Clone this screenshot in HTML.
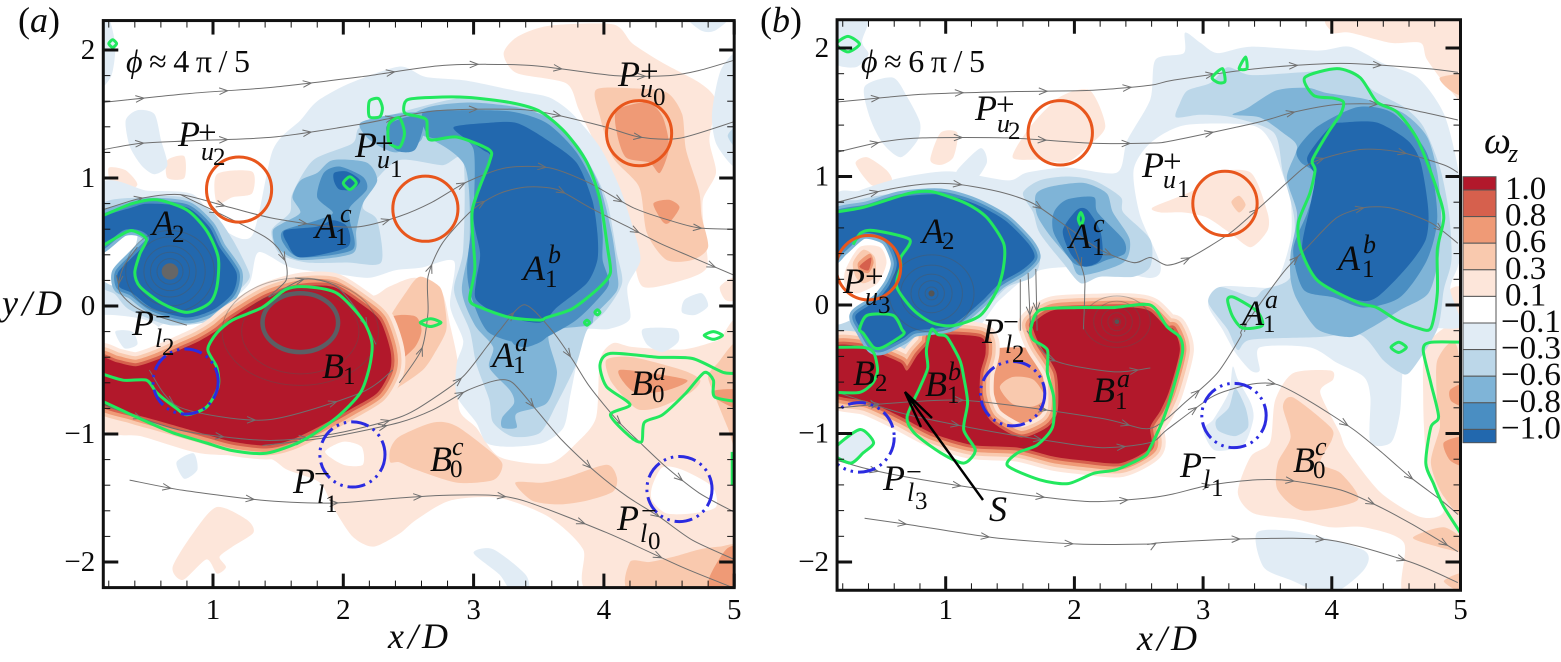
<!DOCTYPE html>
<html lang="en">
<head>
<meta charset="utf-8">
<title>Vorticity contours at two phases</title>
<style>
html,body{margin:0;padding:0;background:#fff;width:1561px;height:662px;overflow:hidden}
svg{display:block}
text{font-family:"Liberation Serif","Noto Serif CJK SC",serif;fill:#0a0a0a}
.m{font-size:36px;font-style:italic}
.u{font-size:26px;font-style:italic}
.d{font-size:25px}
.p{font-size:33px}
.n{font-size:28px}
.t{font-size:29px}
</style>
</head>
<body>
<svg id="figure" width="1561" height="662" viewBox="0 0 1561 662" xmlns="http://www.w3.org/2000/svg">
<defs>
<clipPath id="clip-a"><rect x="103" y="20" width="631" height="568"/></clipPath>
<clipPath id="clip-b"><rect x="837" y="20" width="624" height="570"/></clipPath>
</defs>
<g id="panel-a"></g>
<g id="panel-b"></g>
<g id="colorbar"></g>

<g>
<text x="18" y="32" font-size="36">(<tspan font-style="italic">a</tspan>)</text>
<text x="126" y="72" font-size="32" textLength="124" lengthAdjust="spacing"><tspan font-style="italic">ϕ</tspan>≈4π/5</text>
<text x="2" y="315" font-size="36" font-style="italic" textLength="60" lengthAdjust="spacing">y/D</text>
<text x="388" y="648" font-size="36" font-style="italic" textLength="60" lengthAdjust="spacing">x/D</text>
<g><text class="m" x="178" y="146">P</text><text class="p" x="198" y="143">+</text><text class="u" x="201" y="160">u</text><text class="d" x="213" y="165">2</text></g>
<g><text class="m" x="355" y="157">P</text><text class="p" x="375" y="154">+</text><text class="u" x="377" y="168">u</text><text class="d" x="390" y="177">1</text></g>
<g><text class="m" x="618" y="86">P</text><text class="p" x="640" y="82">+</text><text class="u" x="640" y="97">u</text><text class="d" x="653" y="105">0</text></g>
<g><text class="m" x="152" y="235">A</text><text class="d" x="172" y="242">2</text></g>
<g><text class="m" x="315" y="238">A</text><text class="d" x="335" y="245">1</text><text class="u" x="340" y="222">c</text></g>
<g><text class="m" x="523" y="280">A</text><text class="d" x="545" y="287">1</text><text class="u" x="548" y="263">b</text></g>
<g><text class="m" x="492" y="367">A</text><text class="d" x="513" y="373">1</text><text class="u" x="515" y="351">a</text></g>
<g><text class="m" x="322" y="378">B</text><text class="d" x="343" y="384">1</text></g>
<g><text class="m" x="132" y="335">P</text><text class="n" x="155" y="326">−</text><text class="u" x="155" y="347">l</text><text class="d" x="162" y="355">2</text></g>
<g><text class="m" x="293" y="493">P</text><text class="n" x="314" y="483">−</text><text class="u" x="317" y="503">l</text><text class="d" x="325" y="512">1</text></g>
<g><text class="m" x="617" y="530">P</text><text class="n" x="641" y="520">−</text><text class="u" x="640" y="542">l</text><text class="d" x="648" y="549">0</text></g>
<g><text class="m" x="631" y="395">B</text><text class="d" x="652" y="402">0</text><text class="u" x="653" y="380">a</text></g>
<g><text class="m" x="430" y="471">B</text><text class="d" x="450" y="477">0</text><text class="u" x="452" y="455">c</text></g>
</g>

<g>
<text x="760" y="32" font-size="36">(<tspan font-style="italic">b</tspan>)</text>
<text x="861" y="72" font-size="32" textLength="124" lengthAdjust="spacing"><tspan font-style="italic">ϕ</tspan>≈6π/5</text>
<text x="1137" y="650" font-size="36" font-style="italic" textLength="60" lengthAdjust="spacing">x/D</text>
<g><text class="m" x="975" y="120">P</text><text class="p" x="996" y="115">+</text><text class="u" x="997" y="132">u</text><text class="d" x="1008" y="139">2</text></g>
<g><text class="m" x="1142" y="177">P</text><text class="p" x="1163" y="172">+</text><text class="u" x="1163" y="188">u</text><text class="d" x="1177" y="197">1</text></g>
<g><text class="m" x="843" y="293">P</text><text class="p" x="865" y="287">+</text><text class="u" x="865" y="305">u</text><text class="d" x="878" y="313">3</text></g>
<g><text class="m" x="922" y="243">A</text><text class="d" x="942" y="249">2</text></g>
<g><text class="m" x="1069" y="248">A</text><text class="d" x="1092" y="255">1</text><text class="u" x="1093" y="232">c</text></g>
<g><text class="m" x="1338" y="270">A</text><text class="d" x="1362" y="277">1</text><text class="u" x="1363" y="253">b</text></g>
<g><text class="m" x="1242" y="325">A</text><text class="d" x="1263" y="332">1</text><text class="u" x="1265" y="308">a</text></g>
<g><text class="m" x="853" y="385">B</text><text class="d" x="875" y="391">2</text></g>
<g><text class="m" x="925" y="396">B</text><text class="d" x="947" y="403">1</text><text class="u" x="948" y="380">b</text></g>
<g><text class="m" x="982" y="343">P</text><text class="n" x="1003" y="331">−</text><text class="u" x="1005" y="353">l</text><text class="d" x="1012" y="362">2</text></g>
<g><text class="m" x="1093" y="402">B</text><text class="d" x="1115" y="409">1</text><text class="u" x="1117" y="387">a</text></g>
<g><text class="m" x="883" y="490">P</text><text class="n" x="906" y="481">−</text><text class="u" x="907" y="501">l</text><text class="d" x="915" y="509">3</text></g>
<g><text class="m" x="989" y="521">S</text></g>
<g><text class="m" x="1180" y="477">P</text><text class="n" x="1201" y="467">−</text><text class="u" x="1203" y="488">l</text><text class="d" x="1211" y="496">1</text></g>
<g><text class="m" x="1293" y="472">B</text><text class="d" x="1313" y="478">0</text><text class="u" x="1315" y="455">c</text></g>
<path d="M983 500 L905 392 M921 427 L905 392 L932 418" fill="none" stroke="#000" stroke-width="2.4"/>
</g>
<g><text x="1484" y="153" font-size="38" font-style="italic">ω</text><text x="1508" y="162" font-size="26" font-style="italic">z</text></g>
</svg>

<script>
// ---------- axis ticks ----------
const xMajorTicks = [1, 2, 3, 4, 5];
const xTickLabels = ['1', '2', '3', '4', '5'];
const yMajorTicks = [2, 1, 0, -1, -2];
const yTickLabels = ['2', '1', '0', '\u22121', '\u22122'];
const xMinorTicks = [0.2, 0.4, 0.6, 0.8, 1.2, 1.4, 1.6, 1.8, 2.2, 2.4, 2.6, 2.8, 3.2, 3.4, 3.6, 3.8, 4.2, 4.4, 4.6, 4.8];
const yMinorTicks = [1.8, 1.6, 1.4, 1.2, 0.8, 0.6, 0.4, 0.2, -0.2, -0.4, -0.6, -0.8, -1.2, -1.4, -1.6, -1.8];

// ---------- colour bar ----------
const colorbarTicks = ['1.0', '0.8', '0.6', '0.3', '0.1', '\u22120.1', '\u22120.3', '\u22120.6', '\u22120.8', '\u22121.0'];
const colorbarBands = [1.0, 0.8, 0.6, 0.3, 0.1, 0, -0.1, -0.3, -0.6, -0.8, -1.0];

// ---------- panel (a): filled vorticity regions [level, [x/D, y/D] points] ----------
const aPositiveRegions = [
  [0.1, [[3.23,1.97],[3.33,2.1],[3.58,2.19],[4.07,2.2],[4.22,2.05],[4.45,1.9],[4.74,1.74],[4.86,1.6],[4.81,1.3],[4.86,1.04],[4.76,.83],[4.77,.57],[4.79,.3],[4.6,.2],[4.3,.15],[4.22,.41],[4.12,.77],[3.99,1.14],[3.81,1.53],[3.71,1.74],[3.33,1.82]]],
  [0.3, [[3.94,1.69],[4.22,1.7],[4.48,1.67],[4.6,1.5],[4.63,1.22],[4.73,.9],[4.75,.7],[4.8,.46],[4.68,.36],[4.48,.36],[4.33,.57],[4.27,.93],[4.07,1.16],[3.97,1.48]]],
  [0.6, [[4.1,1.53],[4.33,1.59],[4.45,1.48],[4.5,1.24],[4.43,1.04],[4.35,1.12],[4.17,1.16],[4.1,1.35]]],
  [0.6, [[4.38,.8],[4.5,.83],[4.58,.77],[4.5,.65],[4.45,.66]]],
  [0.1, [[4.89,.15],[5,.22],[5,.05],[4.93,.05]]],
  [0.1, [[.2,1.08],[.33,1.06],[.42,.95],[.32,.88],[.22,.95]]],
  [0.1, [[.65,1.14],[.78,1.17],[.78,1.0],[.65,1.0]]],
  [0.1, [[1.03,1.03],[1.3,1.05],[1.3,.88],[1.15,.85],[1.03,.8]]],
  [0.1, [[.15,-.95],[.46,-1.02],[.9,-1.15],[1.4,-1.18],[1.57,-1.28],[1.82,-1.38],[1.92,-1.57],[2.07,-1.8],[2.23,-1.88],[2.43,-1.78],[2.56,-1.67],[2.82,-1.52],[3.2,-1.5],[3.58,-1.65],[3.84,-1.9],[3.91,-2.25],[5.05,-2.25],[5.05,-.2],[4.87,-.27],[4.6,-.34],[4.22,-.32],[4.07,-.29],[3.97,-.42],[3.94,-.87],[3.79,-1.07],[3.58,-1.23],[3.2,-1.18],[3.02,-.95],[2.89,-.81],[2.88,-.45],[2.82,-.15],[2.75,.12],[2.55,.22],[2.35,.15],[2.2,.08],[1.85,.23],[1.41,.13],[1.03,-.19],[.8,-.34],[.51,-.48],[.36,-.44],[.12,-.33]]],
  [0.3, [[2.36,-1.12],[2.43,-1.02],[2.69,-.91],[2.87,-.94],[3.18,-1.18],[3.22,-1.26],[3.15,-1.36],[2.87,-1.38],[2.56,-1.28],[2.43,-1.22],[2.36,-1.22]]],
  [0.3, [[3.32,-1.38],[3.53,-1.38],[3.71,-1.34],[4.02,-1.24],[4.1,-1.34],[4.07,-1.45],[3.87,-1.52],[3.66,-1.55],[3.45,-1.52]]],
  [0.1, [[.69,-2.04],[.85,-1.77],[1.03,-1.57],[1.26,-1.67],[1.31,-1.77],[1.15,-1.88],[1.05,-1.96],[1.1,-2.04],[1.03,-2.09],[.95,-1.98],[.77,-2.14]]],
  [0.3, [[4.2,-2.0],[4.35,-2.0],[4.53,-1.96],[4.74,-1.9],[4.89,-1.88],[5.05,-1.88],[5.05,-2.25],[4.22,-2.25]]],
  [0.6, [[4.81,-2.12],[4.94,-1.9],[5.05,-1.9],[5.05,-2.25],[4.83,-2.25]]],
  [0.3, [[4.02,-.42],[4.22,-.4],[4.6,-.5],[4.74,-.58],[4.66,-.68],[4.43,-.79],[4.27,-.81],[4.17,-.73],[4.05,-.58]]],
  [0.6, [[4.12,-.5],[4.33,-.52],[4.64,-.58],[4.48,-.66],[4.25,-.68],[4.14,-.58]]],
  [0.3, [[5.05,-.3],[4.87,-.45],[4.8,-.55],[4.85,-.7],[4.95,-.95],[5.05,-1.2]]],
  [0.6, [[4.85,-.66],[5.05,-.66],[5.05,-.81],[4.87,-.73]]],
  [0, [[4.37,-1.41],[4.45,-1.26],[4.6,-1.28],[4.83,-1.41],[4.86,-1.57],[4.68,-1.62],[4.48,-1.62],[4.37,-1.52]]],
  [0, [[1.86,-1.14],[2,-1.06],[2.14,-1.1],[2.15,-1.24],[2,-1.24]]],
  [0.3, [[2.49,.12],[2.59,.23],[2.74,.15],[2.78,0],[2.79,-.19],[2.7,-.37],[2.61,-.5],[2.43,-.63],[2.36,-.66],[2.32,-.19]]],
  [0.6, [[2.35,-.1],[2.55,-.08],[2.6,-.19],[2.55,-.32],[2.4,-.45],[2.33,-.4]]]
];
const aNegativeRegions = [
  [-0.1, [[.12,.92],[.5,.9],[.85,.87],[1.05,.62],[1.3,.55],[1.46,1.22],[1.67,1.45],[1.8,1.6],[2.05,1.74],[2.43,1.87],[2.63,1.79],[2.95,1.76],[3.33,1.68],[3.58,1.63],[3.76,1.5],[3.97,1.24],[4.12,.93],[4.22,.62],[4.28,.36],[4.18,.15],[4.2,-.1],[4.04,-.18],[3.84,-.19],[3.8,-.4],[3.74,-.71],[3.69,-.95],[3.53,-1.07],[3.28,-1.1],[3.1,-1.07],[3.02,-.91],[2.87,-.7],[2.87,-.45],[2.92,-.27],[2.82,0],[2.85,.35],[2.6,.3],[2.4,.28],[2.2,.22],[1.95,.25],[1.6,.3],[1.35,.42],[1.28,.18],[1.1,.02],[.8,-.08],[.6,-.15],[.45,-.33],[.25,-.33],[.12,-.25]]],
  [-0.1, [[.33,1.45],[.42,1.53],[.55,1.5],[.6,1.3],[.65,1.1],[.55,1.03],[.45,1.1],[.36,1.25]]],
  [-0.1, [[.12,2.25],[.2,2.25],[.25,2.03],[.22,1.8],[.12,1.72]]],
  [-0.1, [[5.05,1.95],[4.9,1.85],[4.83,1.5],[4.87,1.25],[5.05,1.1]]],
  [-0.3, [[5.05,1.42],[4.95,1.33],[5.05,1.2]]],
  [-0.1, [[4.65,2.25],[4.75,2.15],[4.85,2.15],[4.95,2.25]]],
  [-0.1, [[4.62,.05],[4.75,.1],[4.8,0],[4.7,-.07],[4.6,-.05]]],
  [-0.1, [[4.3,-.18],[4.55,-.18],[4.57,-.28],[4.45,-.36],[4.33,-.3]]],
  [-0.1, [[.72,-1.22],[.85,-1.15],[.88,-1.28],[.78,-1.35]]],
  [-0.1, [[3,-1.93],[3.15,-1.9],[3.4,-2.1],[3.42,-2.25],[3.3,-2.25],[3.2,-2.1]]],
  [-0.3, [[1.45,.59],[1.59,.73],[1.61,.88],[1.77,1.14],[2.07,1.27],[2.13,1.4],[2.43,1.51],[2.95,1.63],[3.45,1.55],[3.64,1.43],[3.87,1.14],[4.02,.83],[4.1,.41],[4.14,.18],[4.02,-.03],[3.87,-.19],[3.79,-.45],[3.64,-.76],[3.51,-.99],[3.3,-1.02],[3.15,-.91],[3.12,-.73],[3.02,-.45],[2.97,-.19],[2.85,.12],[2.92,.44],[2.92,1.14],[2.76,1.1],[2.43,1.14],[2.23,.96],[2.15,.77],[2.26,.67],[2.29,.34],[2.03,.34],[1.72,.34],[1.51,.41]]],
  [-0.3, [[.12,.77],[.46,.85],[.77,.85],[1,.73],[1.15,.52],[1.27,.28],[1.27,.2],[1.13,.05],[1,-.11],[.67,-.15],[.36,-.03],[.25,.09],[.12,.2]]],
  [0, [[.12,-.08],[.45,-.1],[.6,-.2],[.45,-.42],[.3,-.4],[.12,-.3]]],
  [-0.1, [[.25,-.2],[.38,-.2],[.42,-.3],[.32,-.33]]],
  [0, [[.12,.42],[.35,.56],[.42,.54],[.35,.3],[.24,.16],[.12,.24]]],
  [-0.6, [[2.39,1.41],[2.64,1.55],[2.97,1.59],[3.35,1.55],[3.61,1.45],[3.82,1.23],[3.97,.93],[4.06,.57],[4.1,.28],[4.1,.12],[3.93,-.07],[3.89,-.15],[3.58,-.21],[3.64,-.52],[3.56,-.76],[3.33,-.84],[3.33,-.95],[3.22,-.95],[3.22,-.87],[3.31,-.76],[3.28,-.66],[3.12,-.48],[3.15,-.32],[3.01,-.15],[2.91,.12],[2.97,.52],[2.93,1.1],[2.59,1.34],[2.4,1.3]]],
  [-0.6, [[1.46,.59],[1.54,.65],[1.67,.73],[1.61,.85],[1.67,.98],[1.8,1.04],[1.92,1.14],[2.18,1.12],[2.26,.98],[2.15,.8],[2.1,.59],[2.07,.41],[1.67,.36],[1.49,.46]]],
  [-0.6, [[2.13,1.43],[2.4,1.5],[2.6,1.5],[2.6,1.3],[2.4,1.2],[2.2,1.3]]],
  [-0.8, [[2.61,1.51],[2.87,1.53],[3.28,1.52],[3.56,1.43],[3.79,1.2],[3.95,.88],[3.99,.57],[3.99,.36],[4.04,.18],[3.95,.05],[3.76,-.13],[3.43,-.29],[3.12,-.21],[2.99,.05],[2.95,.3],[3,.77],[3,1.22],[2.87,1.32],[2.66,1.32]]],
  [-0.8, [[3.28,-.19],[3.58,-.19],[3.53,-.27],[3.41,-.32],[3.31,-.3]]],
  [-0.8, [[1.54,.59],[1.8,.67],[1.92,.73],[1.8,.85],[1.85,1.04],[1.97,1.09],[2.15,1.01],[2.18,.91],[2.05,.77],[2.05,.67],[2.07,.44],[1.67,.38],[1.54,.49]]],
  [-0.8, [[2.33,1.4],[2.5,1.48],[2.62,1.45],[2.55,1.22],[2.4,1.22]]],
  [-1.0, [[2.85,1.4],[3.1,1.43],[3.33,1.43],[3.56,1.3],[3.79,1.12],[3.91,.83],[3.95,.57],[3.95,.36],[3.87,.18],[3.64,-.01],[3.51,-.13],[3.2,-.07],[3.02,.05],[3.02,.2],[3.05,.41],[3,.73],[3.13,1.14],[3.07,1.22],[2.92,1.32]]],
  [-1.0, [[1.55,.59],[1.8,.62],[1.92,.67],[2.03,.62],[2.03,.46],[1.67,.38],[1.57,.49]]],
  [-1.0, [[1.93,1.04],[2.03,1.05],[2.13,.98],[2.07,.91],[1.97,.91],[1.93,.97]]]
];
const aBlueCore = [[.12,.67],[.38,.77],[.51,.8],[.8,.77],[.97,.62],[1.05,.46],[1.18,.26],[1.15,.1],[1,-.03],[.8,-.09],[.54,-.02],[.38,.1],[.28,.15],[.27,.26],[.38,.38],[.51,.52],[.44,.59],[.31,.59],[.12,.45]];
const aRedCore = [[.12,-.41],[.26,-.44],[.41,-.47],[.57,-.42],[.75,-.34],[.9,-.27],[1.03,-.19],[1.15,-.09],[1.41,.07],[1.67,.15],[1.92,.15],[2.13,.02],[2.28,-.11],[2.36,-.34],[2.36,-.5],[2.26,-.68],[2.05,-.81],[1.8,-.95],[1.59,-1.05],[1.41,-1.09],[1.15,-1.06],[.9,-.99],[.59,-.9],[.38,-.84],[.12,-.74]];

// ---------- panel (a): Q-criterion outlines ----------
const aOpenOutlines = [
  [[.12,.69],[.38,.8],[.57,.83],[.8,.75],[.95,.59],[1.04,.38],[1.03,.15],[.97,.02],[.8,-.05],[.61,.02],[.44,.15],[.4,.26],[.44,.41],[.49,.52],[.41,.58],[.34,.58],[.12,.45]],
  [[.12,-.52],[.31,-.58],[.49,-.58],[.57,-.68],[.72,-.8],[.8,-.85],[.95,-.79],[1.04,-.63],[1.03,-.48],[.96,-.34],[1.03,-.21],[1.15,-.11],[1.38,-.01],[1.56,.13],[1.72,.15],[1.95,.1],[2.15,-.11],[2.22,-.29],[2.2,-.48],[2.13,-.68],[1.95,-.87],[1.69,-1.05],[1.41,-1.15],[1.15,-1.13],[.95,-1.07],[.69,-.99],[.46,-.89],[.12,-.73]],
  [[5.05,-.52],[4.92,-.52],[4.68,-.41],[4.41,-.4],[4.05,-.37],[3.97,-.46],[4.02,-.63],[4.2,-.77],[4.05,-.85],[4.2,-1.02],[4.29,-1.06],[4.31,-.91],[4.45,-.85],[4.63,-.68],[4.77,-.52],[4.84,-.58],[4.85,-.71],[5.05,-.75]],
  [[4.985,-1.14],[4.985,-1.4]]
];
const aClosedOutlines = [
  [[2.49,1.61],[2.69,1.63],[2.95,1.63],[3.28,1.59],[3.51,1.52],[3.71,1.35],[3.87,1.12],[3.97,.83],[4.03,.44],[4.05,.26],[3.97,.15],[3.76,-.02],[3.56,-.09],[3.51,-.11],[3.28,-.09],[3.05,-.01],[2.97,.05],[3.01,.3],[2.99,.75],[3.12,1.12],[3.12,1.22],[2.87,1.32],[2.66,1.3],[2.64,1.45],[2.58,1.48],[2.47,1.51]],
  [[2.2,1.6],[2.27,1.62],[2.3,1.55],[2.28,1.48],[2.2,1.48]],
  [[2.35,1.42],[2.43,1.47],[2.47,1.35],[2.43,1.24],[2.35,1.28]],
  [[2,.96],[2.05,1.01],[2.1,.96],[2.05,.91]],
  [[.2,2.05],[.23,2.08],[.26,2.05],[.23,2.02]],
  [[2.59,-.13],[2.67,-.1],[2.75,-.13],[2.67,-.16]],
  [[3.93,-.05],[3.95,-.03],[3.97,-.05],[3.95,-.07]],
  [[3.85,-.13],[3.87,-.11],[3.89,-.13],[3.87,-.15]],
  [[4.77,-.23],[4.84,-.2],[4.91,-.23],[4.84,-.26]]
];

// ---------- panel (a): streamlines ----------
const aStreamlines = [
  [[.15,1.59],[.82,1.66],[1.47,1.71],[2.13,1.79],[2.77,1.88],[3.43,1.88],[4.08,1.8],[4.5,1.8],[4.73,1.84],[5,1.92]],
  [[.15,1.22],[.44,1.27],[.82,1.29],[1.47,1.32],[2.13,1.42],[2.43,1.48],[2.77,1.53],[3.43,1.53],[3.97,1.41],[4.27,1.32],[4.58,1.31],[5,1.44]],
  [[.15,.75],[.44,.84],[.75,.87],[1.13,.77],[1.44,.69],[1.82,.63],[2.13,.62],[2.43,.7],[2.68,.81],[2.95,.97],[3.25,1.08],[3.58,1.08],[3.89,.96],[4.22,.77],[4.5,.67],[4.73,.61],[5,.6]],
  [[.75,.87],[1.4,.54],[1.55,.36],[1.56,.2],[1.43,.07],[1.7,.21],[1.95,.15],[2.15,-.1],[2.25,-.3]],
  [[2.43,-.6],[2.6,-.34],[2.65,-.05],[2.65,.23],[2.76,.49],[2.99,.75],[3.2,.88],[3.41,.93],[3.64,.91],[3.89,.77],[4.18,.62],[4.43,.49],[4.68,.38],[5,.24]],
  [[.15,-.77],[.75,-.97],[1.41,-1.05],[1.92,-1],[2.43,-.87],[2.68,-.73],[2.92,-.55],[3.1,-.32],[3.2,-.19],[3.39,.01],[3.6,-.19],[3.76,-.42],[3.89,-.63],[4.1,-.89],[4.27,-1.06],[4.48,-1.26],[4.73,-1.46],[5,-1.61]],
  [[1.38,-1.09],[1.92,-1.02],[2.43,-.91],[2.69,-.81],[2.95,-.66],[3.18,-.58],[3.3,-.6],[3.48,-.81],[3.68,-1.05],[3.94,-1.3],[4.18,-1.49],[4.43,-1.65],[4.68,-1.83],[5,-1.98]],
  [[.36,-1.36],[.77,-1.44],[1.41,-1.52],[1.92,-1.54],[2.43,-1.5],[2.76,-1.48],[3.15,-1.48],[3.41,-1.53],[4.02,-1.77],[4.6,-2.04],[4.99,-2.2]],
  [[.51,-.5],[.74,-.79],[1.41,-.89],[2.13,-.68],[2.38,-.5]],
  [[.42,.46],[.31,.3],[.28,.12],[.44,-.03],[.8,-.15]]
];
// [x/D, y/D, x-radius, y-radius]
const aThinRings = [[.67,.27,.1,.1],[.67,.27,.15,.15],[.67,.27,.2,.2],[.67,.27,.27,.27],[.67,.27,.34,.32],[1.67,-.2,.45,.33],[1.67,-.2,.6,.42]];
const aThickRings = [[1.67,-.13,.29,.23]];
const aCoreDots = [[.67,.27,.06,.06]];
// circled coherent-structure markers [x/D, y/D, radius]
const aPositiveCircles = [[1.2,.91,.25],[2.63,.76,.25],[4.27,1.35,.25]];
const aNegativeCircles = [[.79,-.59,.25],[2.07,-1.16,.25],[4.58,-1.43,.25]];

// ---------- panel (b): filled vorticity regions ----------
const bPositiveRegions = [
  [0.1, [[4.01,2.25],[4.01,2.12],[4.14,2.12],[4.46,2.04],[4.69,2.04],[4.74,1.91],[4.92,1.67],[5.05,1.59],[5.05,2.25]]],
  [0.3, [[4.84,1.77],[5.05,1.79],[5.05,1.62],[4.92,1.67]]],
  [0.1, [[3.27,-1.46],[3.37,-1.18],[3.52,-1.07],[3.56,-.74],[3.7,-.53],[3.99,-.51],[4.01,-.58],[3.91,-.68],[4.06,-.99],[4.12,-1.13],[4.38,-1.46],[4.69,-1.65],[4.87,-1.6],[4.74,-1.23],[4.71,-.72],[4.74,-.3],[5.05,-.27],[5.05,-2.25],[4.56,-2.25],[4.56,-1.85],[4.25,-1.73],[3.99,-1.73],[3.73,-1.67],[3.39,-1.62]]],
  [0.3, [[3.62,-.79],[3.7,-.72],[3.99,-.95],[4,-1.05],[3.91,-1.23],[4.07,-1.31],[4.2,-1.52],[3.78,-1.6],[3.58,-1.44],[3.58,-1.23],[3.68,-1.03]]],
  [0.3, [[4.82,-.43],[4.98,-.35],[5.05,-1.6],[4.87,-1.49],[4.77,-1.23],[4.84,-.95],[4.82,-.79]]],
  [0.6, [[4.92,-.66],[5.05,-.61],[5.05,-.79],[4.93,-.75]]],
  [0.6, [[4.87,-1.07],[5.05,-1.03],[5.05,-1.25],[4.92,-1.21]]],
  [0.3, [[4.63,-1.81],[4.87,-1.73],[5.05,-1.85],[5.05,-1.93],[4.82,-1.88]]],
  [0.3, [[4.87,-2.15],[5.05,-2.08],[5.05,-2.25]]],
  [0.1, [[2.61,.76],[2.92,.89],[3.08,1.03],[3.37,1.03],[3.5,.72],[3.5,.58],[3.37,.45],[3.21,.56],[3.03,.68],[2.85,.72],[2.67,.72]]],
  [0.3, [[3.22,.8],[3.28,.85],[3.33,.78],[3.28,.72]]],
  [0.1, [[1.52,1.15],[1.66,1.39],[1.89,1.62],[2.12,1.67],[2.24,1.39],[2.1,1.23],[1.94,1.11],[1.73,1.13]]],
  [0.1, [[.88,1.13],[.96,1.34],[1.09,1.34],[1.06,1.15],[.96,1.09]]],
  [0.1, [[.3,1.1],[.39,1.15],[.54,1.05],[.58,.96],[.43,.93]]],
  [0.1, [[4.92,.12],[5.05,.12],[5.05,-.2],[4.92,-.1]]],
  [0.6, [[1.29,-.36],[1.74,-.36],[1.88,-.74],[1.79,-.95],[1.58,-1.03],[1.35,-.9],[1.27,-.62]]]
];
const bNegativeRegions = [
  [-0.1, [[.12,.79],[.33,.89],[.65,.99],[1.03,1.04],[1.48,.97],[1.63,1.03],[1.94,1.07],[2.33,1.03],[2.41,1.28],[2.59,1.6],[2.63,1.91],[2.85,1.96],[2.86,2.12],[2.98,2.04],[3.11,1.96],[3.37,2.01],[3.89,1.98],[4.14,2.01],[4.4,1.88],[4.67,1.77],[4.87,1.49],[4.98,1.07],[5.05,.56],[4.98,.3],[4.92,.12],[5,-.17],[4.69,-.19],[4.56,-.45],[4.53,-.84],[4.46,-1.07],[4.3,-1.07],[4.3,-.72],[4.25,-.56],[4.04,-.45],[3.83,-.33],[3.44,-.33],[3.44,-.51],[3.37,-.51],[3.25,-.37],[3.15,-.19],[3.04,0],[3.13,.14],[3.37,.14],[3.56,.16],[3.68,.51],[3.68,.82],[3.62,1.01],[3.52,1.28],[3.37,1.4],[2.86,1.4],[2.59,1.26],[2.46,1.05],[2.51,.7],[2.67,.31],[2.59,.21],[2.2,.29],[1.73,.27],[1.42,.04],[1.11,-.27],[.12,-.35]]],
  [-0.1, [[.37,1.7],[.59,1.77],[.7,1.62],[.8,1.42],[.78,1.28],[.65,1.15],[.51,1.26],[.41,1.46]]],
  [-0.1, [[.12,2.25],[.4,2.25],[.35,2.05],[.4,1.95],[.3,1.85],[.12,1.9]]],
  [-0.1, [[1.09,1.05],[1.27,1.22],[1.32,1.11],[1.21,.95],[1.09,.97]]],
  [-0.1, [[3.42,-1.77],[3.76,-1.77],[4.25,-1.91],[4.25,-2.06],[3.99,-2.25],[3.68,-2.14],[3.47,-2.04]]],
  [-0.1, [[.12,-1.14],[.33,-.97],[.44,-1.07],[.36,-1.15],[.26,-1.23]]],
  [-0.1, [[3.23,-.48],[3.27,-.58],[3.37,-.76],[3.39,-.89],[3.31,-1.09],[3.09,-1.13],[3,-.97],[3.08,-.89],[3.2,-.68]]],
  [-0.3, [[3.25,-.65],[3.33,-.8],[3.35,-.95],[3.25,-1.02],[3.12,-.98],[3.1,-.9],[3.2,-.8]]],
  [-0.3, [[2.79,1.46],[2.82,1.57],[2.88,1.67],[3.06,1.73],[3.19,1.85],[3.37,1.79],[3.76,1.81],[4.14,1.83],[4.32,1.67],[4.56,1.54],[4.71,1.39],[4.84,1.07],[4.91,.72],[4.93,.35],[4.87,.12],[4.82,-.19],[4.61,-.52],[4.52,-.52],[4.4,-.43],[4.22,-.23],[3.89,-.25],[3.37,-.27],[3.27,-.35],[3.19,-.19],[3.04,.02],[3.13,.14],[3.39,.06],[3.47,.12],[3.68,.22],[3.71,.66],[3.62,1.03],[3.55,1.34],[3.23,1.46],[2.98,1.48]]],
  [-0.6, [[3.23,1.48],[3.34,1.53],[3.57,1.67],[3.81,1.69],[3.96,1.65],[4.27,1.6],[4.56,1.49],[4.74,1.31],[4.82,1.03],[4.85,.69],[4.83,.37],[4.75,.09],[4.53,-.04],[4.3,-.18],[4.14,-.25],[3.89,-.19],[3.73,.04],[3.68,.2],[3.68,.4],[3.73,.71],[3.65,.99],[3.73,1.23],[3.62,1.34],[3.44,1.46]]],
  [-0.8, [[3.73,1.21],[3.89,1.39],[4.2,1.54],[4.48,1.49],[4.74,1.18],[4.82,.69],[4.74,.35],[4.53,.06],[4.25,-.02],[4.01,.06],[3.78,.12],[3.7,.43],[3.81,.72],[3.89,1],[3.76,1.11]]],
  [-1.0, [[3.81,1.15],[3.99,1.39],[4.09,1.42],[4.35,1.42],[4.59,1.28],[4.69,1.11],[4.75,.74],[4.73,.51],[4.59,.3],[4.35,.06],[4.2,.04],[3.89,.19],[3.77,.43],[3.83,.76],[3.87,1]]],
  [-0.3, [[1.6,.87],[1.73,.97],[1.94,1],[2.15,.97],[2.36,.84],[2.38,.72],[2.59,.51],[2.59,.3],[2.46,.22],[2.2,.22],[2.05,.17],[1.91,.33],[1.73,.56],[1.68,.72]]],
  [-0.6, [[1.7,.86],[1.81,.92],[2.07,.95],[2.25,.87],[2.3,.72],[2.43,.51],[2.38,.33],[2.05,.23],[1.97,.35],[1.81,.54],[1.71,.7]]],
  [-0.8, [[1.84,.72],[1.94,.82],[2.15,.84],[2.18,.72],[2.38,.51],[2.39,.4],[2.25,.35],[2.12,.3],[1.99,.33],[1.84,.56]]],
  [-1.0, [[1.91,.58],[2.02,.74],[2.1,.74],[2.2,.58],[2.22,.4],[2.18,.33],[2.07,.3],[1.97,.4]]],
  [-0.3, [[.12,.72],[.33,.82],[.65,.87],[1.09,.84],[1.42,.72],[1.6,.56],[1.73,.37],[1.68,.22],[1.48,.14],[1.32,-.02],[1.11,-.2],[.88,-.31],[.65,-.47],[.57,-.43],[.33,-.31],[.12,-.19]]]
];
const bRedCore = [[.12,-.33],[.39,-.33],[.47,-.37],[.65,-.45],[.7,-.51],[.78,-.39],[.86,-.3],[.9,-.23],[1.27,-.25],[1.31,-.37],[1.27,-.53],[1.27,-.72],[1.35,-.9],[1.58,-1.03],[1.79,-.95],[1.87,-.82],[1.86,-.53],[1.73,-.31],[1.68,-.19],[1.68,-.14],[1.84,-.04],[2.2,-.02],[2.46,-.02],[2.59,-.05],[2.72,-.18],[2.77,-.19],[2.82,-.35],[2.74,-.66],[2.67,-.82],[2.59,-.95],[2.59,-1.11],[2.36,-1.23],[2.07,-1.21],[1.84,-1.18],[1.56,-1.11],[1.21,-1.09],[.9,-1],[.65,-.87],[.39,-.75],[.12,-.68]];
const bBlueCore = [[.12,.69],[.39,.76],[.65,.84],[.96,.86],[1.22,.79],[1.46,.66],[1.64,.48],[1.69,.37],[1.59,.27],[1.42,.17],[1.27,.02],[1.04,-.16],[.76,-.2],[.67,-.26],[.51,-.34],[.43,-.33],[.35,-.2],[.3,-.08],[.47,.04],[.57,.17],[.62,.33],[.54,.51],[.36,.56],[.2,.43],[.12,.37]];
const bInnerRegions = [
  [0.3, [[1.42,-.64],[1.52,-.56],[1.68,-.58],[1.77,-.72],[1.68,-.79],[1.52,-.77]]],
  [0, [[.12,.39],[.36,.58],[.54,.54],[.65,.31],[.59,.12],[.41,-.04],[.26,-.12],[.12,-.12]]],
  [0.1, [[.22,.27],[.33,.45],[.49,.45],[.54,.33],[.47,.17],[.31,.09],[.22,.14]]],
  [0.3, [[.28,.33],[.36,.43],[.45,.37],[.45,.22],[.36,.17],[.3,.22]]],
  [0.6, [[.32,.33],[.41,.4],[.44,.33],[.4,.25],[.33,.27]]],
  [0.8, [[.33,.3],[.42,.37],[.4,.27]]]
];

// ---------- panel (b): Q-criterion outlines ----------
const bOpenOutlines = [
  [[.12,.72],[.36,.76],[.72,.87],[.9,.88],[1.16,.79],[1.32,.68],[1.45,.48],[1.45,.3],[1.4,.12],[1.27,-.08],[1.06,-.16],[.9,-.14],[.75,-.04],[.62,.14],[.65,.3],[.65,.37],[.72,.51],[.44,.58],[.34,.56],[.28,.47]],
  [[.12,-.33],[.36,-.33],[.44,-.37],[.47,-.51],[.43,-.61],[.33,-.68],[.12,-.68]],
  [[5.05,-.29],[4.77,-.29],[4.71,-.35],[4.77,-.61],[4.83,-.87],[4.77,-.95],[4.73,-1.23],[4.79,-1.39],[4.87,-1.57],[5.05,-1.85]]
];
const bClosedOutlines = [
  [[.33,-.19],[.39,-.08],[.59,-.08],[.66,-.19],[.67,-.23],[.51,-.33],[.44,-.33],[.36,-.22]],
  [[.89,-.19],[.94,-.23],[1.01,-.25],[1.11,-.43],[1.14,-.56],[1.17,-.76],[1.14,-.97],[1.23,-1.13],[1.14,-1.23],[.96,-1.15],[.76,-1],[.7,-.87],[.8,-.64],[.86,-.49],[.85,-.35]],
  [[1.66,-.19],[1.73,-.04],[2.02,-.02],[2.3,-.02],[2.59,0],[2.72,-.17],[2.82,-.25],[2.84,-.37],[2.77,-.64],[2.69,-.89],[2.59,-1.11],[2.54,-1.18],[2.33,-1.28],[2.15,-1.31],[1.95,-1.39],[1.73,-1.36],[1.48,-1.25],[1.56,-1.15],[1.71,-1.09],[1.83,-.95],[1.84,-.72],[1.79,-.53],[1.79,-.35],[1.68,-.27]],
  [[3.79,1.77],[4.04,1.84],[4.22,1.77],[4.35,1.58],[4.51,1.5],[4.67,1.28],[4.82,.89],[4.87,.68],[4.82,.43],[4.82,.09],[4.77,-.18],[4.67,-.18],[4.51,-.12],[4.35,-.02],[4.2,.02],[3.89,.19],[3.76,.43],[3.74,.64],[3.83,.87],[3.87,1.05],[3.85,1.13],[3.97,1.34],[4.07,1.49],[4.09,1.58],[4.01,1.61],[3.86,1.63]],
  [[3.19,.04],[3.24,.06],[3.42,-.05],[3.46,-.16],[3.31,-.18],[3.23,-.09]],
  [[3.07,1.77],[3.15,1.84],[3.17,1.74],[3.12,1.73]],
  [[3.28,1.84],[3.33,1.93],[3.34,1.84]],
  [[4.46,-.33],[4.52,-.29],[4.58,-.33],[4.52,-.37]],
  [[.15,2.03],[.24,2.09],[.33,2.03],[.24,1.97]],
  [[2.03,.67],[2.05,.72],[2.07,.67],[2.05,.62]],
  [[.12,-1.14],[.33,-.97],[.44,-1.07],[.36,-1.15],[.26,-1.23]]
];

// ---------- panel (b): streamlines ----------
const bStreamlines = [
  [[.16,1.58],[.82,1.64],[1.48,1.66],[2.12,1.67],[2.59,1.71],[2.77,1.75],[3.42,1.84],[4.07,1.88],[4.74,1.84],[4.98,1.81]],
  [[.16,1.19],[.51,1.27],[.82,1.3],[1.48,1.3],[2.12,1.26],[2.59,1.26],[2.77,1.28],[3.42,1.42],[3.7,1.5],[4.04,1.56],[4.4,1.56],[4.71,1.5],[4.98,1.44]],
  [[.16,.8],[.51,.89],[.82,.94],[1.09,.94],[1.42,.88],[1.68,.79],[1.94,.61],[2.2,.43],[2.46,.33],[2.59,.37],[2.72,.31],[2.9,.37],[3.21,.56],[3.44,.76],[3.66,.96],[3.85,1.11],[4.22,1.21],[4.53,1.19],[4.87,1.09],[4.98,1.03]],
  [[1.94,.61],[2.07,.25],[2.08,.09],[2.07,-.19]],
  [[.16,-.68],[.65,-.84],[1.17,-.95],[1.63,-1.03],[2.2,-1.11],[2.59,-1.07],[2.72,-.97],[3.06,-.72],[3.24,-.65],[3.42,-.61],[3.58,-.62],[3.83,-.75],[4.17,-.97],[4.38,-1.14],[4.61,-1.34],[4.85,-1.52],[4.98,-1.63]],
  [[.16,-.8],[1.11,-.74],[2.2,-.88],[2.59,-.96],[2.88,-.74],[3.11,-.53],[3.29,-.25],[3.31,-.18],[3.62,.25],[3.81,.45],[4.04,.68],[4.27,.76],[4.48,.75],[4.77,.64],[4.98,.48]],
  [[.16,-1.21],[.41,-1.28],[.82,-1.36],[1.48,-1.46],[2.12,-1.53],[2.59,-1.5],[2.77,-1.47],[3.06,-1.4],[3.42,-1.36],[3.7,-1.37],[4.07,-1.44],[4.35,-1.56],[4.63,-1.71],[4.98,-1.92]],
  [[.37,-1.66],[.72,-1.71],[1.37,-1.81],[2.02,-1.86],[2.59,-1.86],[2.67,-1.85],[3.31,-1.82],[3.99,-1.83],[4.61,-2],[4.98,-2.16]],
  [[1.58,.2],[1.58,-.2]],
  [[1.64,.25],[1.66,-.2]],
  [[1.7,.28],[1.71,-.2]],
  [[1.63,-.2],[1.84,-.43],[2.3,-.52],[2.59,-.49]]
];
const bThinRings = [[.89,.09,.05,.05],[.89,.09,.1,.1],[.89,.09,.16,.15],[.89,.09,.24,.22],[.89,.09,.33,.3],[2.33,-.13,.03,.03],[2.33,-.13,.07,.07],[2.33,-.13,.12,.11],[2.33,-.13,.18,.16],[2.33,-.13,.26,.2]];
const bThickRings = [];
const bCoreDots = [[.89,.09,.02,.02],[2.33,-.13,.015,.015]];
const bPositiveCircles = [[.4,.29,.25],[1.89,1.34,.25],[3.17,.79,.25]];
const bNegativeCircles = [[1.52,-.69,.25],[.33,-1.03,.27],[3.24,-.86,.25]];

// ---------- rendering ----------
const NS = 'http://www.w3.org/2000/svg';
const levelColor = {
  '1': '#b2182b', '0.8': '#d6604d', '0.6': '#ef9a76', '0.3': '#f9c9ae', '0.1': '#fde6da', '0': '#ffffff',
  '-0.1': '#e1ecf5', '-0.3': '#bcd7e9', '-0.6': '#7fb4d7', '-0.8': '#4a8ec2', '-1': '#2268ae'
};
const redHalo = [[0.1, 28], [0.3, 20], [0.6, 13], [0.8, 6]];
const blueHalo = [[-0.6, 12], [-0.8, 6]];

function el(tag, attrs, parent) {
  const node = document.createElementNS(NS, tag);
  for (const k in attrs) node.setAttribute(k, attrs[k]);
  parent.appendChild(node);
  return node;
}
function smoothPath(pts, closed) {
  const n = pts.length;
  let d = 'M' + pts[0][0].toFixed(1) + ' ' + pts[0][1].toFixed(1);
  const last = closed ? n : n - 1;
  const k = 0.13;
  for (let i = 0; i < last; i++) {
    const p0 = closed ? pts[(i - 1 + n) % n] : pts[Math.max(i - 1, 0)];
    const p1 = pts[i];
    const p2 = closed ? pts[(i + 1) % n] : pts[i + 1];
    const p3 = closed ? pts[(i + 2) % n] : pts[Math.min(i + 2, n - 1)];
    d += 'C' + (p1[0] + (p2[0] - p0[0]) * k).toFixed(1) + ' ' + (p1[1] + (p2[1] - p0[1]) * k).toFixed(1) + ' '
      + (p2[0] - (p3[0] - p1[0]) * k).toFixed(1) + ' ' + (p2[1] - (p3[1] - p1[1]) * k).toFixed(1) + ' '
      + p2[0].toFixed(1) + ' ' + p2[1].toFixed(1);
  }
  return closed ? d + 'Z' : d;
}
function project(cfg, pts) {
  return pts.map(function (p) { return [cfg.x(p[0]), cfg.y(p[1])]; });
}
function drawRegions(cfg, layer, regions) {
  regions.forEach(function (r) {
    const c = el('path', { d: smoothPath(project(cfg, r[1]), true), fill: levelColor[String(r[0])] }, layer);
    
    
  });
}
function drawCore(cfg, layer, pts, halo, level) {
  const d = smoothPath(project(cfg, pts), true);
  halo.forEach(function (h) {
    const c = el('path', { d: d, fill: levelColor[String(h[0])], stroke: levelColor[String(h[0])], 'stroke-width': h[1], 'stroke-linejoin': 'round' }, layer);
    
    
  });
  const core = el('path', { d: d, fill: levelColor[String(level)] }, layer);
  
  
}
function drawStream(cfg, layer, pts) {
  const s = el('path', { d: smoothPath(project(cfg, pts), false), fill: 'none', stroke: '#6f6f6f', 'stroke-width': 1 }, layer);
  
  
  const len = s.getTotalLength();
  for (let at = 42; at < len - 12; at += 84) {
    const a = s.getPointAtLength(at);
    const b = s.getPointAtLength(at - 2);
    const ang = Math.atan2(a.y - b.y, a.x - b.x);
    const dl = function (t) { return (a.x + 9 * Math.cos(ang + t)).toFixed(1) + ' ' + (a.y + 9 * Math.sin(ang + t)).toFixed(1); };
    const h = el('path', { d: 'M' + dl(Math.PI - 0.38) + 'L' + a.x.toFixed(1) + ' ' + a.y.toFixed(1) + 'L' + dl(Math.PI + 0.38), fill: 'none', stroke: '#6f6f6f', 'stroke-width': 1 }, layer);
    
    
  }
}
function drawEllipses(cfg, layer, items, stroke, width, opacity, fill) {
  items.forEach(function (r) {
    const e = el('ellipse', {
      cx: cfg.x(r[0]), cy: cfg.y(r[1]), rx: Math.abs(cfg.x(r[0] + r[2]) - cfg.x(r[0])), ry: Math.abs(cfg.y(r[1] + r[3]) - cfg.y(r[1])),
      fill: fill, stroke: stroke, 'stroke-width': width, opacity: opacity
    }, layer);
    
    
  });
}
function drawOutlines(cfg, layer, lines, closed) {
  lines.forEach(function (pts) {
    const o = el('path', { d: smoothPath(project(cfg, pts), closed), fill: 'none', stroke: '#22e85e', 'stroke-width': 3, 'stroke-linejoin': 'round' }, layer);
    
    
  });
}
function drawCircles(cfg, layer, items, stroke, dash) {
  items.forEach(function (c) {
    const r = cfg.x(c[0] + c[2]) - cfg.x(c[0]);
    const m = el('circle', { cx: cfg.x(c[0]), cy: cfg.y(c[1]), r: r, fill: 'none', stroke: stroke, 'stroke-width': 3, 'stroke-dasharray': dash }, layer);
    
    
  });
}
function drawAxes(cfg, layer) {
  const x0 = cfg.x(cfg.xMin), x1 = cfg.x(5), y0 = cfg.y(cfg.yMax), y1 = cfg.y(cfg.yMin);
  function vTick(v, len) {
    const px = cfg.x(v);
    const t1 = el('line', { x1: px, x2: px, y1: y1, y2: y1 - len, stroke: '#111', 'stroke-width': len > 10 ? 3 : 1 }, layer);
    
    
    const t2 = el('line', { x1: px, x2: px, y1: y0, y2: y0 + len, stroke: '#111', 'stroke-width': len > 10 ? 3 : 1 }, layer);
    
    
  }
  function hTick(v, len) {
    const py = cfg.y(v);
    const t1 = el('line', { x1: x0, x2: x0 + len, y1: py, y2: py, stroke: '#111', 'stroke-width': len > 10 ? 3 : 1 }, layer);
    
    
    const t2 = el('line', { x1: x1, x2: x1 - len, y1: py, y2: py, stroke: '#111', 'stroke-width': len > 10 ? 3 : 1 }, layer);
    
    
  }
  xMinorTicks.forEach(function (v) { vTick(v, 7); });
  yMinorTicks.forEach(function (v) { hTick(v, 7); });
  xMajorTicks.forEach(function (v, i) {
    vTick(v, 14);
    const t = el('text', { x: cfg.x(v), y: 619, 'text-anchor': 'middle', class: 't' }, layer);
    t.textContent = xTickLabels[i];
    
    
  });
  yMajorTicks.forEach(function (v, i) {
    hTick(v, 15);
    const t = el('text', { x: x0 - 8, y: cfg.y(v) + 9, 'text-anchor': 'end', class: 't' }, layer);
    t.textContent = yTickLabels[i];
    
    
  });
  const frame = el('rect', { x: x0, y: y0, width: x1 - x0, height: y1 - y0, fill: 'none', stroke: '#111', 'stroke-width': 3 }, layer);
  
  
}

const panelA = {
  x: function (v) { return 213 + (v - 1) * 130.3; },
  y: function (v) { return 306 - v * 128; },
  xMin: 0.158, yMin: -2.2, yMax: 2.23
};
const panelB = {
  x: function (v) { return 945.7 + (v - 1) * 128.7; },
  y: function (v) { return 305 - v * 128.5; },
  xMin: 0.156, yMin: -2.22, yMax: 2.22
};

(function () {
  const pa = document.getElementById('panel-a');
  const ca = el('g', { 'clip-path': 'url(#clip-a)' }, pa);
  
  
  drawRegions(panelA, ca, aPositiveRegions);
  drawRegions(panelA, ca, aNegativeRegions);
  drawCore(panelA, ca, aBlueCore, blueHalo, -1);
  drawCore(panelA, ca, aRedCore, redHalo, 1);
  drawEllipses(panelA, ca, aThinRings, '#555', 1, 0.4, 'none');
  drawEllipses(panelA, ca, aThickRings, '#5c5e64', 4.5, 1, 'none');
  drawEllipses(panelA, ca, aCoreDots, '#666', 1, 1, '#666');
  aStreamlines.forEach(function (s) { drawStream(panelA, ca, s); });
  drawOutlines(panelA, ca, aOpenOutlines, false);
  drawOutlines(panelA, ca, aClosedOutlines, true);
  drawCircles(panelA, ca, aPositiveCircles, '#e8561c', 'none');
  drawCircles(panelA, ca, aNegativeCircles, '#2b2be0', '18 5 2.5 5 2.5 5');
  drawAxes(panelA, pa);

  const pb = document.getElementById('panel-b');
  const cb = el('g', { 'clip-path': 'url(#clip-b)' }, pb);
  
  
  drawRegions(panelB, cb, bPositiveRegions);
  drawRegions(panelB, cb, bNegativeRegions);
  drawCore(panelB, cb, bRedCore, redHalo, 1);
  drawRegions(panelB, cb, bInnerRegions.slice(0, 1));
  drawRegions(panelB, cb, bInnerRegions.slice(1, 2));
  drawCore(panelB, cb, bBlueCore, blueHalo, -1);
  drawRegions(panelB, cb, bInnerRegions.slice(2));
  drawEllipses(panelB, cb, bThinRings, '#555', 1, 0.4, 'none');
  drawEllipses(panelB, cb, bThickRings, '#5c5e64', 4.5, 1, 'none');
  drawEllipses(panelB, cb, bCoreDots, '#555', 1, 1, '#555');
  bStreamlines.forEach(function (s) { drawStream(panelB, cb, s); });
  drawOutlines(panelB, cb, bOpenOutlines, false);
  drawOutlines(panelB, cb, bClosedOutlines, true);
  drawCircles(panelB, cb, bPositiveCircles, '#e8561c', 'none');
  drawCircles(panelB, cb, bNegativeCircles, '#2b2be0', '18 5 2.5 5 2.5 5');
  drawAxes(panelB, pb);

  // colour bar: each tick sits on a band boundary; the end bands are half height
  const bar = document.getElementById('colorbar');
  const barLeft = 1463, barWidth = 33, firstTick = 190, tickStep = 26.6;
  function tickY(i) { return firstTick + i * tickStep; }
  colorbarBands.forEach(function (v, i) {
    const top = i === 0 ? tickY(0) - tickStep / 2 : tickY(i - 1);
    const bottom = i === colorbarBands.length - 1 ? tickY(i - 1) + tickStep / 2 : tickY(i);
    const seg = el('rect', { x: barLeft, y: top, width: barWidth, height: bottom - top, fill: levelColor[String(v)], stroke: '#555', 'stroke-width': 1 }, bar);
    
    
  });
  colorbarTicks.forEach(function (label, i) {
    const t = el('text', { x: label.charAt(0) === '\u2212' ? 1501 : 1505, y: tickY(i) + 9, 'font-size': 33 }, bar);
    t.textContent = label;
    
    
  });
})();
</script>
</body>
</html>
